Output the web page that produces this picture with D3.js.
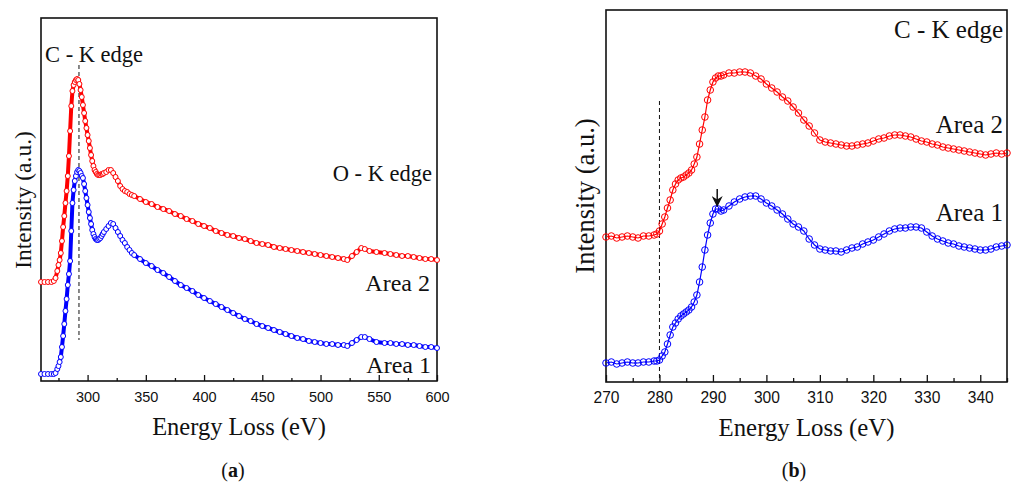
<!DOCTYPE html>
<html>
<head>
<meta charset="utf-8">
<script src="https://cdn.jsdelivr.net/npm/d3@7"></script>
<style>
  body { margin: 0; background: #fff; }
</style>
</head>
<body>
<div id="chart"></div>
<script>
// ---- data (intensity in a.u.) ----

// panel (a): wide range EELS
const energyA = [260,263,266,269,271,272.5,
  274,275,276,277,278,279,280,281,282,283,284,285,286,287,288,289,290,291,292,293,
  294,295,296,297,298,299,300,301,302,303,304,305,306,307,308,309,310,311,312,313,314,
  316,318,320,322,324,326,328,330,332,334,336,338,340,
  345,350,355,360,365,370,375,380,385,390,395,400,405,410,415,420,425,430,435,440,
  445,450,455,460,465,470,475,480,485,490,495,500,505,510,515,520,
  523,527,531,535,538,542,548,
  555,560,565,570,575,580,585,590,595,600];
const area2A = [99,99,99,99,100,103,
  110,116,121,128,140,154,165,178,190,205,225,250,275,290,296,299,301,302,301,297,
  291,284,276,268,260,253,246,240,233,226,220,215,211,209,207,206,206,206,207,207,208,
  209,211,211,208,204,200,195,192,190,189,187,186,185,
  182,179,177,174,172,170,167,165,162,160,157,155,153,150,148,146,145,143,142,140,
  138,137,136,134,133,132,131,130,129,128,127,126,125,124,123,122,
  121,125,129,133,132,130,129,
  128,127,126,125,125,124,123,122,122,121];
const area1A = [7,7,7,7,7,8,
  12,15,19,24,34,45,57,70,82,96,107,120,150,178,191,200,205,209,211,210,
  208,205,203,197,190,183,176,169,163,157,151,147,144,142,141,141,142,143,145,147,149,
  152,155,158,157,153,149,145,141,138,134,131,128,126,
  122,118,115,111,108,104,100,96,93,90,86,83,80,77,74,71,68,65,62,60,
  57,55,53,51,49,47,45,43,42,40,39,38,37,37,36,36,
  35,38,41,44,44,42,39,
  38,38,37,37,36,36,35,34,34,33];
const majorTicksA = [300,350,400,450,500,550,600];
const minorTicksA = [275,325,375,425,475,525,575];
const edgeA = 292.6;        // C-K edge marker

// panel (b): C-K edge close-up
const energyB = [270,271,272,273,274,275,276,277,278,279,
  279.5,280,280.5,281,281.5,282,282.5,283,283.5,284,284.5,285,285.5,286,286.5,287,
  287.5,288,288.5,289,289.5,290,290.5,291,291.5,292,
  293,294,295,296,297,298,299,300,301,302,303,304,305,306,307,308,309,310,311,312,
  313,314,315,316,317,318,319,320,321,322,323,324,325,326,327,328,329,330,331,332,
  333,334,335,336,337,338,339,340,341,342,343,344,345];
const area2B = [145,146,144,145,146,145,144,146,146,147,
  148,151,158,165,174,182,192,198,202,204,205,207,209,212,218,225,
  238,252,265,282,292,300,304,306,306,307,
  309,309,310,310,309,306,303,298,294,290,285,281,275,269,262,256,249,242,240,239,
  238,237,236,236,237,238,239,241,243,244,246,247,247,246,245,243,241,240,238,237,
  235,234,233,232,231,230,229,228,227,228,229,228,229];
const area1B = [19,20,18,19,20,19,19,20,20,21,
  21,22,26,30,38,47,55,59,63,66,68,70,72,75,80,87,
  100,115,132,147,159,168,173,173,171,172,
  176,180,183,185,186,186,183,179,176,172,168,163,158,155,151,143,137,133,132,131,
  131,130,132,134,135,138,140,142,145,148,151,153,154,154,155,155,154,150,146,143,
  141,139,138,136,135,134,133,132,132,133,135,136,137];
const majorTicksB = [270,280,290,300,310,320,330,340];
const minorTicksB = [275,285,295,305,315,325,335,345];
const edgeB = 280;
const arrowB = {e: 290.8, from: 193, to: 176};

const serif = "'Liberation Serif', 'Times New Roman', serif";
const sans = "'Liberation Sans', Arial, sans-serif";

const svg = d3.select("#chart").append("svg")
              .attr("width", 1013)
              .attr("height", 482);

function drawPanel(p) {
  const x = d3.scaleLinear().domain(p.xDomain).range([p.left, p.right]);
  const y = d3.scaleLinear().domain(p.yDomain).range([p.bottom, p.top]);
  const g = svg.append("g");

  // minor + major ticks, pointing inward
  g.append("g")
    .attr("transform", `translate(0,${p.bottom})`)
    .call(d3.axisBottom(x).tickValues(p.minor).tickSizeInner(-p.minorLen).tickSizeOuter(0).tickFormat(""))
    .call(a => a.select(".domain").remove())
    .call(a => a.selectAll("line").attr("stroke", "#111").attr("stroke-width", 1.3));

  const xAxis = g.append("g")
    .attr("transform", `translate(0,${p.bottom})`)
    .call(d3.axisBottom(x).tickValues(p.major).tickSizeInner(-p.majorLen).tickSizeOuter(0).tickPadding(p.pad));
  xAxis.select(".domain").remove();
  xAxis.selectAll("line").attr("stroke", "#111").attr("stroke-width", 1.3);
  xAxis.selectAll("text")
    .attr("font-family", sans)
    .attr("font-size", p.tickFont)
    .attr("fill", "#111");

  // frame
  g.append("rect")
    .attr("x", p.left).attr("y", p.top)
    .attr("width", p.right - p.left).attr("height", p.bottom - p.top)
    .attr("fill", "none").attr("stroke", "#111").attr("stroke-width", 1.6);

  // dashed edge marker
  g.append("line")
    .attr("x1", x(p.edge.e)).attr("x2", x(p.edge.e))
    .attr("y1", y(p.edge.y0)).attr("y2", y(p.edge.y1))
    .attr("stroke", "#111").attr("stroke-width", 1)
    .attr("stroke-dasharray", "4,3");

  const line = d3.line().x((d, i) => x(p.energy[i])).y(d => y(d));

  p.series.forEach(s => {
    g.append("path")
      .datum(s.values)
      .attr("d", line)
      .attr("fill", "none")
      .attr("stroke", s.color)
      .attr("stroke-width", p.lineWidth);
    g.append("g").selectAll("circle")
      .data(s.values)
      .join("circle")
      .attr("cx", (d, i) => x(p.energy[i]))
      .attr("cy", d => y(d))
      .attr("r", p.r)
      .attr("fill", p.fill)
      .attr("stroke", s.color)
      .attr("stroke-width", 1);
  });

  // text labels
  p.labels.forEach(l => {
    g.append("text")
      .attr("x", l.x).attr("y", l.y)
      .attr("text-anchor", l.anchor || "start")
      .attr("font-family", serif)
      .attr("font-size", l.size)
      .attr("fill", "#111")
      .text(l.text);
  });

  // axis titles
  g.append("text")
    .attr("x", (p.left + p.right) / 2).attr("y", p.titleY)
    .attr("text-anchor", "middle")
    .attr("font-family", serif).attr("font-size", p.titleFont)
    .attr("fill", "#111")
    .text("Energy Loss (eV)");
  g.append("text")
    .attr("transform", `translate(${p.yLabelX},${p.yLabelY}) rotate(-90)`)
    .attr("text-anchor", "middle")
    .attr("font-family", serif).attr("font-size", p.yLabelFont)
    .attr("fill", "#111")
    .text("Intensity (a.u.)");

  // sub-figure caption
  const cap = g.append("text")
    .attr("x", p.capX).attr("y", 477)
    .attr("text-anchor", "middle")
    .attr("font-family", serif).attr("font-size", 20)
    .attr("fill", "#111");
  cap.append("tspan").text("(");
  cap.append("tspan").attr("font-weight", "bold").text(p.caption);
  cap.append("tspan").text(")");

  return {x, y, g};
}

drawPanel({
  xDomain: [260, 600], yDomain: [0, 363],
  left: 41, right: 437, top: 18, bottom: 381,
  major: majorTicksA, minor: minorTicksA, majorLen: 6, minorLen: 3, pad: 11, tickFont: 14.5,
  energy: energyA,
  series: [{values: area2A, color: "#ff0000"}, {values: area1A, color: "#0000ff"}],
  lineWidth: 4, r: 2.5, fill: "#fff",
  edge: {e: edgeA, y0: 316, y1: 41},
  labels: [
    {text: "C - K edge", x: 45, y: 62, size: 22.5},
    {text: "O - K edge", x: 432, y: 181, size: 22.5, anchor: "end"},
    {text: "Area 2", x: 430, y: 291, size: 24, anchor: "end"},
    {text: "Area 1", x: 431, y: 373, size: 24, anchor: "end"}
  ],
  titleY: 435, titleFont: 24.5,
  yLabelX: 31, yLabelY: 200, yLabelFont: 23.5,
  capX: 233, caption: "a"
});

const pb = drawPanel({
  xDomain: [270, 345], yDomain: [0, 372],
  left: 606, right: 1007, top: 10, bottom: 382,
  major: majorTicksB, minor: minorTicksB, majorLen: 7, minorLen: 4, pad: 10, tickFont: 15.6,
  energy: energyB,
  series: [{values: area2B, color: "#ff0000"}, {values: area1B, color: "#0000ff"}],
  lineWidth: 1.2, r: 3.3, fill: "none",
  edge: {e: edgeB, y0: 281, y1: 0},
  labels: [
    {text: "C - K edge", x: 1003, y: 38, size: 25, anchor: "end"},
    {text: "Area 2", x: 1003, y: 133, size: 25, anchor: "end"},
    {text: "Area 1", x: 1003, y: 221, size: 25, anchor: "end"}
  ],
  titleY: 436, titleFont: 24.8,
  yLabelX: 594, yLabelY: 196, yLabelFont: 26.5,
  capX: 794, caption: "b"
});

// arrow pointing at the first peak of Area 1
svg.append("defs").append("marker")
  .attr("id", "head")
  .attr("viewBox", "0 0 10 10")
  .attr("refX", 9).attr("refY", 5)
  .attr("markerWidth", 11).attr("markerHeight", 11)
  .attr("markerUnits", "userSpaceOnUse")
  .attr("orient", "auto")
  .append("path").attr("d", "M0,0 L10,5 L0,10 L3,5 Z").attr("fill", "#111");

pb.g.append("line")
  .attr("x1", pb.x(arrowB.e)).attr("x2", pb.x(arrowB.e))
  .attr("y1", pb.y(arrowB.from)).attr("y2", pb.y(arrowB.to))
  .attr("stroke", "#111").attr("stroke-width", 1.5)
  .attr("marker-end", "url(#head)");
</script>
</body>
</html>
